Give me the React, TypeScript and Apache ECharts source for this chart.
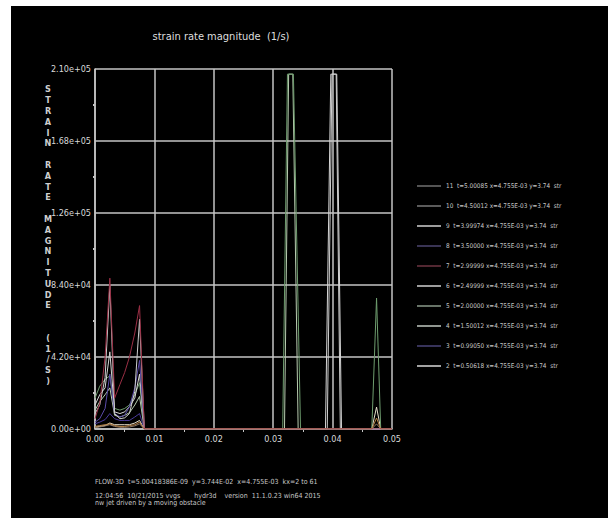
import React, { useEffect, useRef } from "react";
import * as echarts from "echarts";

const FONT = "'Liberation Sans Narrow', 'DejaVu Sans Condensed', 'Liberation Sans', sans-serif";

const TITLE = "strain rate magnitude  (1/s)";
const Y_LETTERS = ["S", "T", "R", "A", "I", "N", "", "R", "A", "T", "E", "", "M", "A", "G", "N", "I", "T", "U", "D", "E", "", "", "(", "1", "/", "S", ")"];
const FOOTER = [
  "FLOW-3D  t=5.00418386E-09  y=3.744E-02  x=4.755E-03  kx=2 to 61",
  "12:04:56  10/21/2015 vvgs       hydr3d    version  11.1.0.23 win64 2015",
  "nw jet driven by a moving obstacle",
];

// x positions (m) of the cells near the jet
const X_CLUSTER = [0, 0.0008, 0.0017, 0.0025, 0.0033, 0.0042, 0.005, 0.0058, 0.0067, 0.0075, 0.0083];

const S11 = [1500, 2000, 2500, 3000, 2000, 1500, 1500, 2000, 2500, 4000, 0];
const S10 = [800, 1200, 1800, 2500, 1500, 1000, 1000, 1200, 1800, 3000, 0];
const S9 = [9000, 14000, 30000, 84000, 9000, 6000, 6500, 9000, 22000, 64000, 0];
const S8 = [4000, 6000, 12000, 32000, 9000, 7000, 8000, 13000, 24000, 40000, 0];
const S7 = [6000, 15000, 42000, 88000, 18000, 26000, 33000, 42000, 56000, 72000, 0];
const S6 = [14000, 20000, 24000, 45000, 10000, 9000, 10000, 13000, 18000, 32000, 0];
const S5 = [18000, 25000, 29000, 31000, 12000, 11000, 12000, 14000, 20000, 27000, 0];
const S4 = [11000, 16000, 20000, 24000, 8000, 7000, 8000, 9500, 14000, 19000, 0];
const S3 = [3000, 4000, 5500, 9000, 6000, 5000, 5000, 5000, 7000, 9000, 0];
const S2 = [1000, 1500, 2000, 3500, 2500, 2500, 2500, 2500, 3500, 5000, 0];

// points further downstream [x, value]
const T11 = [[0.0466, 0], [0.0474, 6400], [0.0481, 0], [0.05, 0]];
const T10 = [[0.0466, 0], [0.0474, 3000], [0.0481, 0], [0.05, 0]];
const T9 = [[0.0391, 0], [0.0399, 207000], [0.0406, 207000], [0.0413, 0], [0.05, 0]];
const T8 = [[0.05, 0]];
const T7 = [[0.05, 0]];
const T6 = [[0.0388, 0], [0.0397, 207000], [0.0407, 207000], [0.0415, 0], [0.05, 0]];
const T5 = [[0.0316, 0], [0.0324, 207000], [0.0334, 207000], [0.0346, 0], [0.0466, 0], [0.0474, 76400], [0.0481, 0], [0.05, 0]];
const T4 = [[0.0319, 0], [0.0326, 207000], [0.0333, 207000], [0.0342, 0], [0.05, 0]];
const T3 = [[0.05, 0]];
const T2 = [[0.0466, 0], [0.0474, 12800], [0.0481, 0], [0.05, 0]];

const NAMES = [
  "11  t=5.00085 x=4.755E-03 y=3.74  str",
  "10  t=4.50012 x=4.755E-03 y=3.74  str",
  "9  t=3.99974 x=4.755E-03 y=3.74  str",
  "8  t=3.50000 x=4.755E-03 y=3.74  str",
  "7  t=2.99999 x=4.755E-03 y=3.74  str",
  "6  t=2.49999 x=4.755E-03 y=3.74  str",
  "5  t=2.00000 x=4.755E-03 y=3.74  str",
  "4  t=1.50012 x=4.755E-03 y=3.74  str",
  "3  t=0.99050 x=4.755E-03 y=3.74  str",
  "2  t=0.50618 x=4.755E-03 y=3.74  str",
];
const VALUES = [S11, S10, S9, S8, S7, S6, S5, S4, S3, S2];
const TAILS = [T11, T10, T9, T8, T7, T6, T5, T4, T3, T2];
const COLORS = ["#b98446", "#8c7866", "#cfcfcf", "#5a4aa8", "#9a2f45", "#d6d6d6", "#6f9e6f", "#b8ccb0", "#4a3a9a", "#e6e0cc"];
const LEGEND_COLORS = ["#707070", "#7a7a7a", "#d0d0d0", "#4c4670", "#6e3442", "#d0d0d0", "#8a9a8a", "#c0c8c0", "#4a4478", "#d8d8d8"];
// draw order (later = on top)
const DRAW_ORDER = [9, 8, 7, 6, 5, 3, 2, 1, 0, 4];

function fmtExp(v: number): string {
  const s = v.toExponential(2);
  return s.replace(/e([+-])(\d)$/, "e$10$2");
}

export default function App() {
  const ref = useRef<HTMLDivElement>(null);
  useEffect(() => {
    if (!ref.current) return;
    const chart = echarts.init(ref.current, null, { renderer: "svg" });
    const series = DRAW_ORDER.map((i) => ({
      name: NAMES[i],
      type: "line",
      symbol: "none",
      data: X_CLUSTER.map((x, k) => [x, VALUES[i][k]]).concat(TAILS[i] as any),
      lineStyle: { color: COLORS[i], width: 1 },
      itemStyle: { color: COLORS[i] },
      z: 3,
    }));
    chart.setOption({
      animation: false,
      backgroundColor: "#ffffff",
      title: {
        text: TITLE,
        left: 216,
        top: 26,
        textAlign: "center",
        textStyle: { color: "#dedede", fontSize: 11, fontWeight: "normal", fontFamily: FONT },
      },
      legend: {
        orient: "vertical",
        left: 412,
        top: 176,
        icon: "rect",
        itemWidth: 24,
        itemHeight: 1.5,
        itemGap: 10,
        data: NAMES.map((n, i) => ({
          name: n,
          itemStyle: { color: LEGEND_COLORS[i] },
          textStyle: { color: "#c8c8c8" },
        })),
        textStyle: { color: "#c8c8c8", fontSize: 6.4, fontFamily: FONT, lineHeight: 10 },
        inactiveColor: "#444",
      },
      grid: { left: 95, right: 216, top: 69, bottom: 98, containLabel: false },
      xAxis: {
        type: "value",
        min: 0,
        max: 0.05,
        interval: 0.01,
        axisLine: { show: true, lineStyle: { color: "#c4c4c4", width: 1.5 } },
        axisTick: { show: false },
        minorTick: { show: true, splitNumber: 2, length: 3, lineStyle: { color: "#c4c4c4" } },
        axisLabel: {
          color: "#d8d8d8",
          fontSize: 9,
          fontFamily: FONT,
          margin: 5,
          formatter: (v: number) => v.toFixed(2),
        },
        splitLine: { show: true, lineStyle: { color: "#c4c4c4", width: 1.5 } },
      },
      yAxis: {
        type: "value",
        min: 0,
        max: 210000,
        interval: 42000,
        axisLine: { show: true, lineStyle: { color: "#c4c4c4", width: 1.5 } },
        axisTick: { show: false },
        minorTick: { show: true, splitNumber: 2, length: 2, lineStyle: { color: "#c4c4c4", width: 2 } },
        axisLabel: {
          color: "#d8d8d8",
          fontSize: 9,
          fontFamily: FONT,
          margin: 4,
          formatter: (v: number) => fmtExp(v),
        },
        splitLine: { show: true, lineStyle: { color: "#c4c4c4", width: 1.5 } },
      },
      graphic: [
        {
          type: "rect",
          z: -10,
          silent: true,
          shape: { x: 11, y: 6, width: 597, height: 512 },
          style: { fill: "#000000" },
        },
        {
          type: "text",
          x: 48,
          y: 84,
          style: {
            text: Y_LETTERS.join("\n"),
            fill: "#cfcfcf",
            font: `bold 9px ${FONT}`,
            align: "center",
            verticalAlign: "top",
            lineHeight: 10.8,
          },
        },
        ...FOOTER.map((t, i) => ({
          type: "text",
          x: 95,
          y: [482, 496, 503][i],
          style: {
            text: t,
            fill: "#c8c8c8",
            font: `7px ${FONT}`,
            align: "left",
            verticalAlign: "middle",
          },
        })),
      ],
      series,
    });
    return () => chart.dispose();
  }, []);
  return (
    <div
      ref={ref}
      style={{ position: "fixed", left: 0, top: 0, width: 608, height: 527, background: "#fff" }}
    />
  );
}
